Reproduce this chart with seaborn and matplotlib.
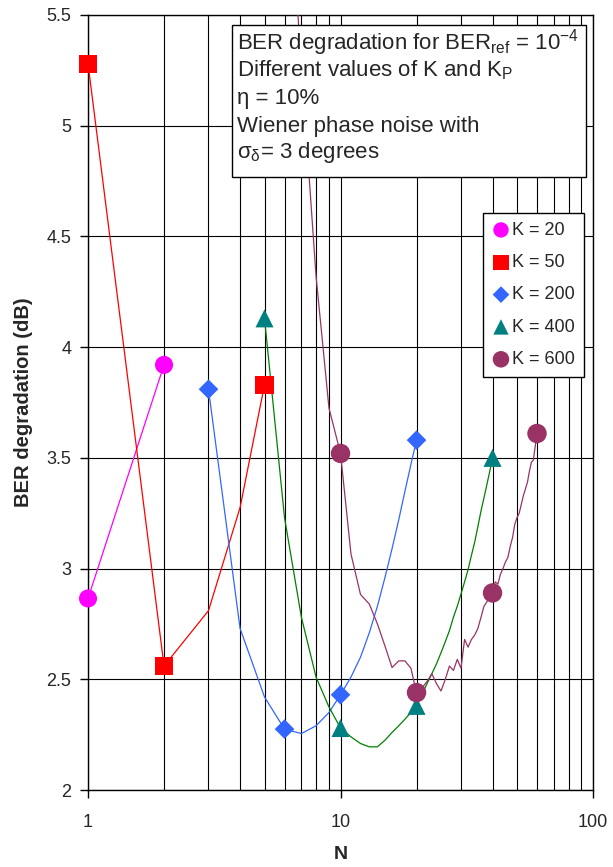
import numpy as np
import pandas as pd
import matplotlib
matplotlib.use('Agg')
import matplotlib.pyplot as plt
import matplotlib.patches as mpatches
import seaborn as sns

# curves (simulated BER degradation vs N)
n_k20 = [1, 2]
deg_k20 = [2.865, 3.92]
n_k50 = [1, 2, 3, 4, 5]
deg_k50 = [5.28, 2.56, 2.81, 3.275, 3.83]
n_k200 = list(range(3, 21))
deg_k200 = [3.81, 2.73, 2.42, 2.275, 2.255, 2.29, 2.35, 2.43, 2.51, 2.60,
            2.71, 2.83, 2.96, 3.09, 3.22, 3.35, 3.47, 3.58]
n_k400 = list(range(5, 41))
deg_k400 = [4.13, 3.23, 2.78, 2.51, 2.375, 2.28, 2.24, 2.21, 2.195, 2.195,
            2.225, 2.26, 2.29, 2.32, 2.35, 2.38, 2.43, 2.48, 2.525, 2.57,
            2.62, 2.67, 2.72, 2.78, 2.83, 2.885, 2.94, 2.995, 3.06, 3.12,
            3.19, 3.26, 3.32, 3.38, 3.44, 3.50]
n_k600 = list(range(6, 61))
deg_k600 = [6.4, 5.27, 4.32, 3.725, 3.52, 3.066, 2.883, 2.84, 2.75, 2.65,
            2.553, 2.583, 2.583, 2.55, 2.44, 2.46, 2.49, 2.525, 2.48, 2.447,
            2.50, 2.56, 2.54, 2.59, 2.55, 2.68, 2.645, 2.68, 2.70, 2.73,
            2.78, 2.83, 2.85, 2.87, 2.89, 2.94, 2.93, 2.975, 3.00, 3.03,
            3.05, 3.10, 3.14, 3.20, 3.23, 3.25, 3.29, 3.33, 3.36, 3.39,
            3.44, 3.48, 3.49, 3.55, 3.61]

# marker points
mk_n_k20 = [1, 2]
mk_deg_k20 = [2.865, 3.92]
mk_n_k50 = [1, 2, 5]
mk_deg_k50 = [5.28, 2.56, 3.83]
mk_n_k200 = [3, 6, 10, 20]
mk_deg_k200 = [3.81, 2.275, 2.43, 3.58]
mk_n_k400 = [5, 10, 20, 40]
mk_deg_k400 = [4.13, 2.28, 2.38, 3.50]
mk_n_k600 = [10, 20, 40, 60]
mk_deg_k600 = [3.52, 2.44, 2.89, 3.61]

labels = ['K = 20', 'K = 50', 'K = 200', 'K = 400', 'K = 600']

info_lines = ['BER degradation for BER$_\\mathregular{ref}$ = 10$^\\mathregular{-4}$',
              'Different values of K and K$_\\mathregular{P}$',
              '\u03b7 = 10%',
              'Wiener phase noise with',
              '\u03c3$_\\mathregular{\u03b4}$= 3 degrees']

sns.set_style('white')
plt.rcParams['font.family'] = ['Liberation Sans', 'DejaVu Sans']
plt.rcParams['mathtext.fontset'] = 'custom'
plt.rcParams['mathtext.rm'] = 'Liberation Sans'

fig = plt.figure(figsize=(6.13, 8.67), dpi=100)
ax = fig.add_axes([0.1436, 0.0888, 0.8238, 0.8939])

series = [
    (n_k20, deg_k20, mk_n_k20, mk_deg_k20, '#FF00FF', '#FF00FF', 'o', 13),
    (n_k50, deg_k50, mk_n_k50, mk_deg_k50, '#FF0000', '#FF0000', 's', 13),
    (n_k200, deg_k200, mk_n_k200, mk_deg_k200, '#3366FF', '#3366FF', 'D', 10),
    (n_k400, deg_k400, mk_n_k400, mk_deg_k400, '#008000', '#008080', '^', 13),
    (n_k600, deg_k600, mk_n_k600, mk_deg_k600, '#993366', '#993366', 'o', 14),
]

for (nl, dl, nm, dm, lc, mc, mk, ms), lab in zip(series, labels):
    sns.lineplot(x=nl, y=dl, ax=ax, color=lc, lw=0.9, sort=False,
                 estimator=None, zorder=3)
    sns.scatterplot(x=nm, y=dm, ax=ax, color=mc, marker=mk, s=ms ** 2,
                    edgecolor='none', label=lab, zorder=4, clip_on=False)

ax.set_xscale('log')
ax.set_xlim(1, 100)
ax.set_ylim(2, 5.5)
ax.set_yticks(np.arange(2, 5.51, 0.5))
ax.set_yticklabels(['2', '2.5', '3', '3.5', '4', '4.5', '5', '5.5'])
ax.set_xticks([1, 10, 100])
ax.set_xticklabels(['1', '10', '100'])
ax.tick_params(axis='both', which='major', direction='out', length=6,
               width=1, color='black', labelsize=13, pad=6, left=True,
               bottom=True)
ax.tick_params(axis='x', which='major', pad=11)
ax.tick_params(axis='x', which='minor', length=0)
ax.grid(True, which='both', color='black', lw=0.8)
for sp in ax.spines.values():
    sp.set_color('black')
    sp.set_linewidth(1)

ax.set_xlabel('N', fontsize=14, fontweight='bold', labelpad=11)
ax.set_ylabel('BER degradation (dB)', fontsize=14.5, fontweight='bold',
              labelpad=10)

# annotation box
box = mpatches.Rectangle((0.285, 0.791), 0.701, 0.196, transform=ax.transAxes,
                         fc='white', ec='black', lw=1, zorder=6)
ax.add_patch(box)
for yb, line in zip([0.9557, 0.9204, 0.8852, 0.8494, 0.8151], info_lines):
    ax.text(0.295, yb, line, transform=ax.transAxes, fontsize=16,
            va='baseline', ha='left', zorder=7)

leg = ax.legend(loc='upper left', bbox_to_anchor=(0.782, 0.745),
                fontsize=13, frameon=True, fancybox=False, framealpha=1,
                edgecolor='black', handletextpad=0.1, handlelength=1.0,
                borderpad=0.5, labelspacing=0.85, borderaxespad=0,
                markerscale=0.85)
leg.get_frame().set_linewidth(1)
leg.set_zorder(8)

fig.savefig('out.png', dpi=100)
